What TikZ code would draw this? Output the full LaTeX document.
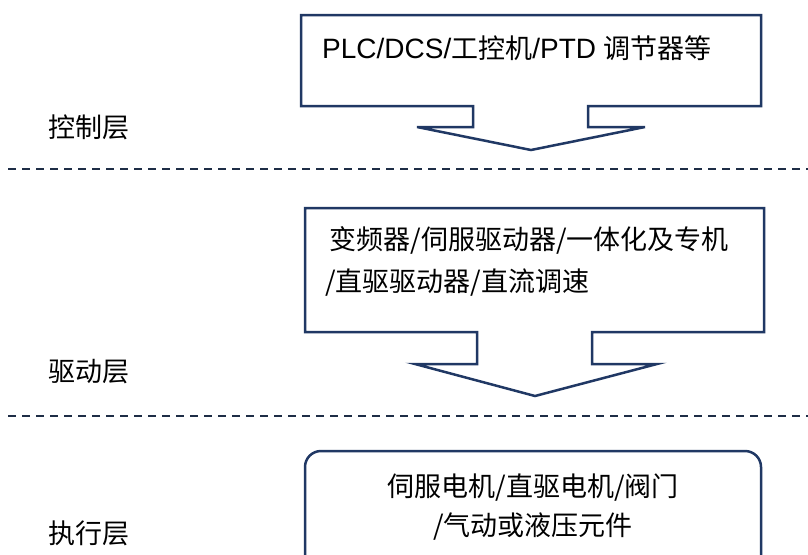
\documentclass[tikz,border=0pt]{standalone}
\usepackage{fontspec}
\setmainfont{Liberation Sans}
\newfontfamily\cjk{Noto Sans CJK SC}
\definecolor{navy}{RGB}{32,56,100}
\definecolor{dashc}{RGB}{30,45,70}
\begin{document}
\begin{tikzpicture}[x=1pt,y=-1pt,
  shapeline/.style={draw=navy,line width=2.5pt,line join=miter,fill=white},
  sepline/.style={draw=dashc,line width=1.8pt,dash pattern=on 8pt off 6pt},
  layerlabel/.style={font=\cjk\fontsize{27}{30}\selectfont,inner sep=0pt},
  boxtext/.style={font=\cjk\fontsize{27}{42}\selectfont,inner sep=0pt}]
\useasboundingbox (0,0) rectangle (808,554);
\fill[white] (0,0) rectangle (808,554);
% separators
\coordinate (s1a) at (8,169); \coordinate (s1b) at (808,169);
\coordinate (s2a) at (8,416); \coordinate (s2b) at (808,416);
\draw[sepline] (s1a) -- (s1b);
\draw[sepline] (s2a) -- (s2b);
% callout 1
\draw[shapeline] (301,15) -- (761,15) -- (761,106) -- (588,106) -- (588,127) -- (645,127) -- (531,150) -- (417,127) -- (473,127) -- (473,106) -- (301,106) -- cycle;
% callout 2
\draw[shapeline] (305,208) -- (764,208) -- (764,332) -- (592,332) -- (592,364) -- (657,364) -- (535,396) -- (415,364) -- (477,364) -- (477,332) -- (305,332) -- cycle;
% box 3
\draw[draw=navy,line width=2.5pt,rounded corners=16pt] (305,560) -- (305,451) -- (761,451) -- (761,560);
% texts
\node[anchor=base west,inner sep=0pt,font=\fontsize{28}{34}\selectfont] (t1) at (322,58)
  {PLC/DCS/{\cjk\fontsize{27}{34}\selectfont 工控机}/PTD {\cjk\fontsize{27}{34}\selectfont 调节器等}};
\node[boxtext,align=left,anchor=west] (t2) at (325,261)
  {\,变频器/伺服驱动器/一体化及专机\\/直驱驱动器/直流调速};
\node[boxtext,align=center,font=\cjk\fontsize{27}{39}\selectfont] (t3) at (533,507)
  {伺服电机/直驱电机/阀门\\/气动或液压元件};
\node[layerlabel] (l1) at (89,127) {控制层};
\node[layerlabel] (l2) at (89,372) {驱动层};
\node[layerlabel] (l3) at (89,533) {执行层};
\end{tikzpicture}
\end{document}
